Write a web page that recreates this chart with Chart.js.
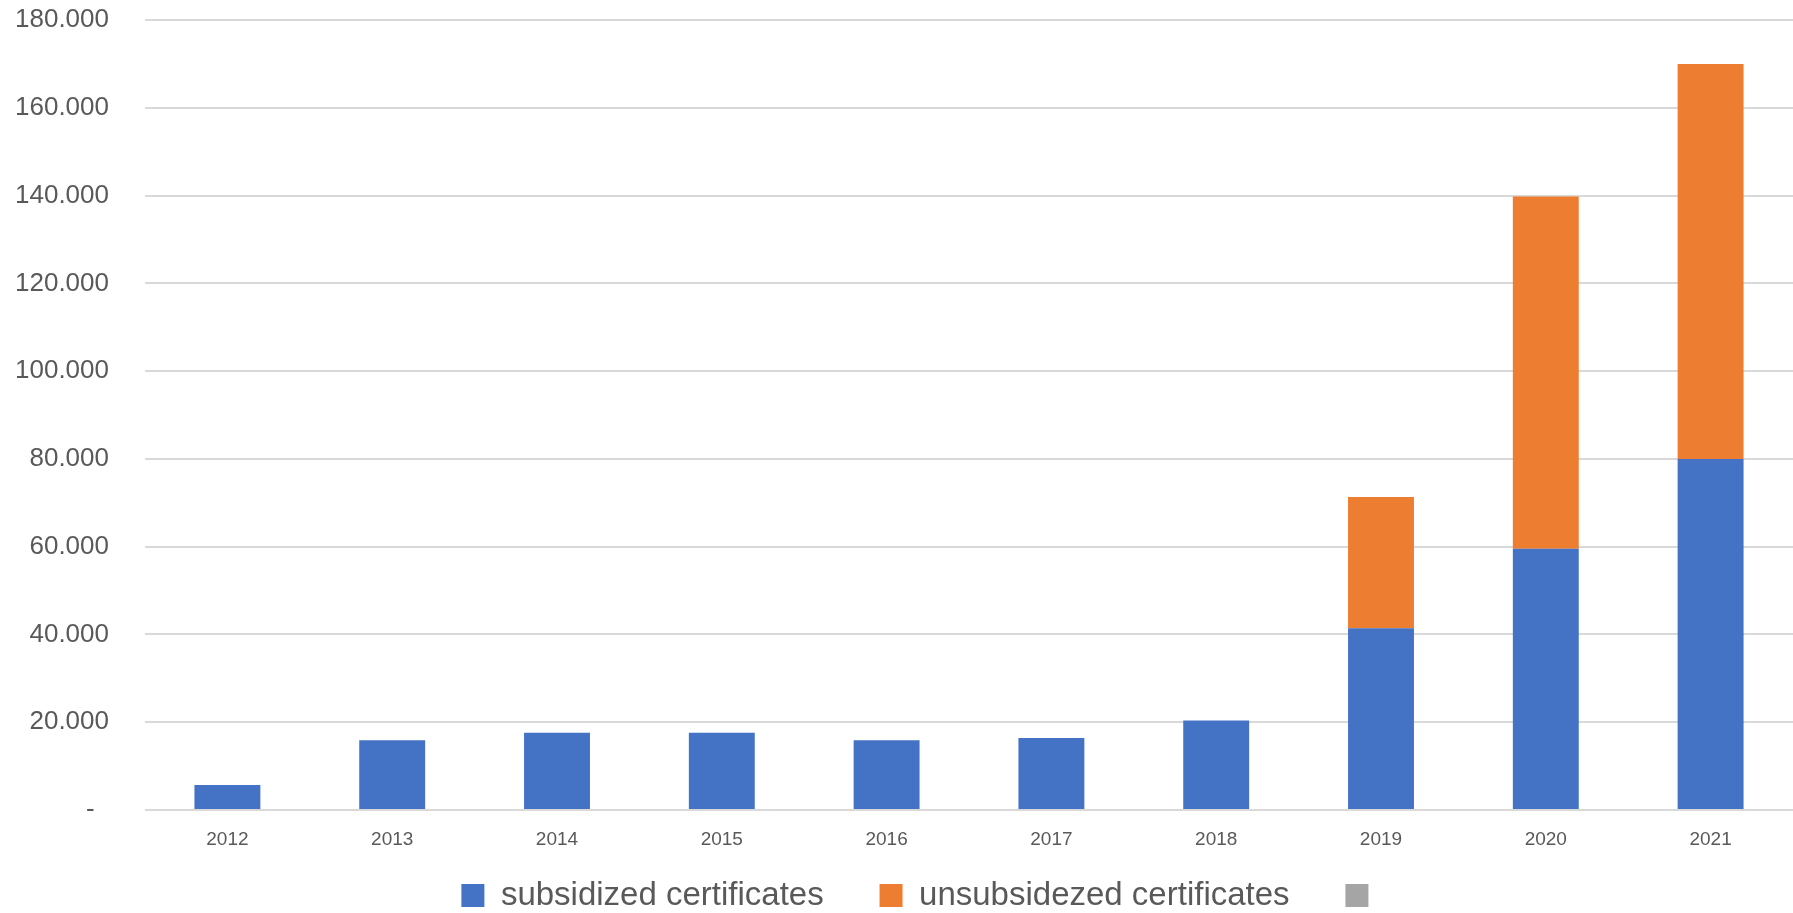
<!DOCTYPE html>
<html>
<head>
<meta charset="utf-8">
<script src="https://cdn.jsdelivr.net/npm/chart.js@4"></script>
<style>
    body { margin: 0; background: #fff; }
    #wrap { width: 1793px; height: 913px; }
</style>
</head>
<body>
<div id="wrap"><canvas id="certChart"></canvas></div>
<script>
// Data
const years = ["2012", "2013", "2014", "2015", "2016", "2017", "2018", "2019", "2020", "2021"];
const subsidized = [5700, 15900, 17600, 17600, 15900, 16400, 20400, 41400, 59500, 80000];
const unsubsidized = [0, 0, 0, 0, 0, 0, 0, 29900, 80300, 90000];
const yTicks = [0, 20000, 40000, 60000, 80000, 100000, 120000, 140000, 160000, 180000];
const seriesNames = ['subsidized certificates', 'unsubsidezed certificates', ''];

// 180000 -> "180.000", 0 -> "-"
function formatTick(v){
    if(v === 0) return "-  ";
    return (v / 1000) + ".000";
}

// trailing spaces give the wide gap between legend items
const gap = "     ";
// empty third entry: spaces keep the legend row where Excel put it
const tail = "          ";

const ctx = document.getElementById("certChart").getContext("2d");

new Chart(ctx, {
    type: 'bar',
    data: {
        labels: years,
        datasets: [
            { label: seriesNames[0] + gap, data: subsidized, backgroundColor: '#4472C4' },
            { label: seriesNames[1] + gap, data: unsubsidized, backgroundColor: '#ED7D31' },
            { label: seriesNames[2] + tail, data: [], backgroundColor: '#A5A5A5' }
        ]
    },
    options: {
        responsive: true,
        maintainAspectRatio: false,
        animation: false,
        datasets: {
            bar: { barPercentage: 0.4, categoryPercentage: 1.0 }
        },
        layout: {
            padding: { top: 20, right: 0, left: 0, bottom: -9 }
        },
        scales: {
            x: {
                stacked: true,
                grid: { display: false },
                border: { display: false },
                ticks: {
                    color: '#595959',
                    padding: 10,
                    font: { family: 'Liberation Sans', size: 19 }
                },
                afterFit: (scale) => { scale.height = 59; }
            },
            y: {
                stacked: true,
                min: 0,
                max: 180000,
                afterBuildTicks: (scale) => { scale.ticks = yTicks.map(v => ({ value: v })); },
                grid: { color: '#d9d9d9', lineWidth: 2, drawTicks: false },
                border: { display: false },
                ticks: {
                    color: '#595959',
                    padding: 36,
                    font: { family: 'Liberation Sans', size: 26 },
                    callback: (v) => formatTick(v)
                },
                afterFit: (scale) => {
                    scale.width = 145;
                    scale.paddingTop = 15;
                }
            }
        },
        plugins: {
            legend: {
                position: 'bottom',
                fullSize: false,
                labels: {
                    color: '#595959',
                    boxWidth: 23,
                    boxHeight: 23,
                    padding: 10,
                    font: { family: 'Liberation Sans', size: 33 }
                }
            },
            tooltip: { enabled: false }
        }
    }
});
</script>
</body>
</html>
